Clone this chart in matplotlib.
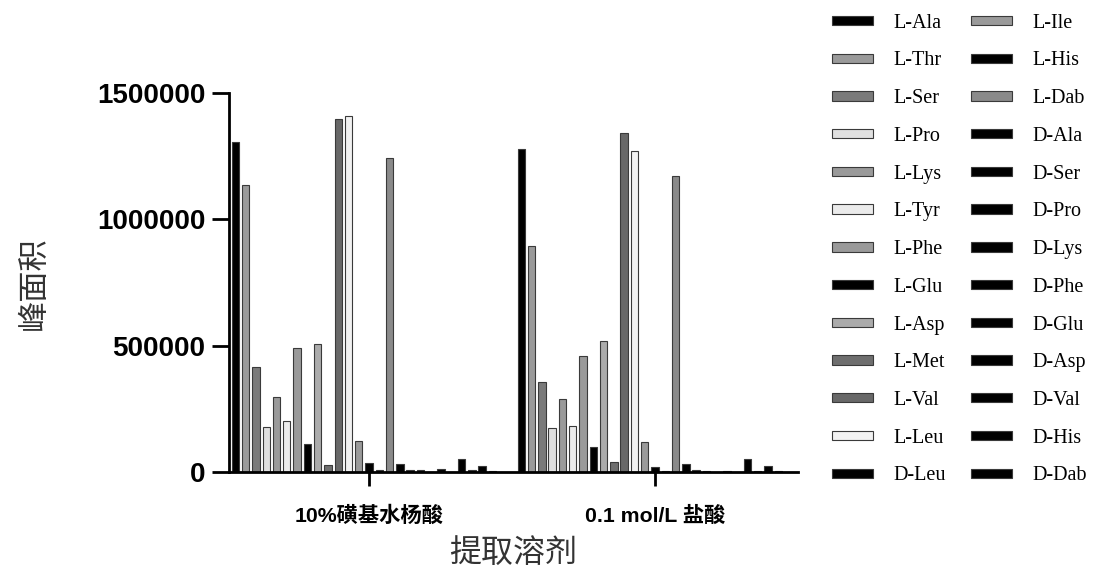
import numpy as np
import matplotlib.pyplot as plt
from matplotlib.patches import Patch

plt.rcParams['font.family'] = ['Liberation Sans', 'Noto Sans CJK SC']

# extraction solvents (x groups)
groups = ["10%磺基水杨酸", "0.1 mol/L 盐酸"]

# amino acid series, in bar order within each group
names = ["L-Ala", "L-Thr", "L-Ser", "L-Pro", "L-Lys", "L-Tyr", "L-Phe", "L-Glu",
         "L-Asp", "L-Met", "L-Val", "L-Leu", "L-Ile", "L-His", "D-Leu", "L-Dab",
         "D-Ala", "D-Ser", "D-Pro", "D-Lys", "D-Phe", "D-Glu", "D-Asp", "D-Val",
         "D-His", "D-Dab"]

# peak areas, one list per solvent
area_ssa = [1305000, 1135000, 415000, 180000, 298000, 203000, 490000, 111000,
            506000, 28000, 1398000, 1411000, 123000, 34000, 6000, 1243000,
            32000, 7000, 6000, 0, 11000, 0, 51000, 6000, 24000, 5000]
area_hcl = [1279000, 895000, 358000, 173000, 288000, 184000, 461000, 100000,
            520000, 38000, 1343000, 1270000, 118000, 21000, 5000, 1171000,
            30000, 7000, 5000, 0, 5000, 0, 51000, 5000, 25000, 4000]

colors = {
    "L-Ala": "#000000", "L-Thr": "#9a9a9a", "L-Ser": "#7a7a7a", "L-Pro": "#e0e0e0",
    "L-Lys": "#9a9a9a", "L-Tyr": "#ebebeb", "L-Phe": "#9a9a9a", "L-Glu": "#000000",
    "L-Asp": "#ababab", "L-Met": "#6e6e6e", "L-Val": "#686868", "L-Leu": "#f2f2f2",
    "L-Ile": "#9a9a9a", "L-His": "#000000", "D-Leu": "#000000", "L-Dab": "#8a8a8a",
}

# legend layout: two columns as printed
legend_order = ["L-Ala", "L-Thr", "L-Ser", "L-Pro", "L-Lys", "L-Tyr", "L-Phe",
                "L-Glu", "L-Asp", "L-Met", "L-Val", "L-Leu", "D-Leu",
                "L-Ile", "L-His", "L-Dab", "D-Ala", "D-Ser", "D-Pro", "D-Lys",
                "D-Phe", "D-Glu", "D-Asp", "D-Val", "D-His", "D-Dab"]

values = np.array([area_ssa, area_hcl])
x = np.arange(len(groups))
n = len(names)
slot = 1 / 27.8
offsets = (np.arange(n) - n // 2) * slot

fig = plt.figure(figsize=(10.93, 5.72), dpi=100)
ax = fig.add_axes([0.2095, 0.1748, 0.5205, 0.6622])

handles = {}
for i, name in enumerate(names):
    c = colors.get(name, "#000000")
    ax.bar(x + offsets[i], values[:, i], width=slot * 0.72, color=c,
           edgecolor="#3a3a3a", linewidth=0.8)
    handles[name] = Patch(facecolor=c, edgecolor="#3a3a3a", linewidth=0.8)

ax.set_xlim(-0.49, 1.5)
ax.set_ylim(0, 1500000)
ax.set_yticks([0, 500000, 1000000, 1500000])
ax.set_yticklabels(["0", "500000", "1000000", "1500000"])
ax.set_xticks(x)
ax.set_xticklabels(groups)

for s in ["top", "right"]:
    ax.spines[s].set_visible(False)
for s in ["left", "bottom"]:
    ax.spines[s].set_linewidth(2)

ax.tick_params(axis="y", length=12, width=2, pad=5, labelsize=20)
ax.tick_params(axis="x", length=10, width=2, pad=14, labelsize=15.3)
for lbl in ax.get_yticklabels() + ax.get_xticklabels():
    lbl.set_fontweight("bold")

ax.set_ylabel("峰面积", fontsize=22.5, color="#333333", labelpad=34,
              family=["Noto Sans CJK SC"])
ax.set_xlabel("提取溶剂", fontsize=23, color="#333333", labelpad=8,
              family=["Noto Sans CJK SC"])

fig.legend([handles[k] for k in legend_order], legend_order, ncol=2,
           loc="upper left", bbox_to_anchor=(0.761, 0.976), frameon=False,
           prop={"family": "Liberation Serif", "size": 14.5},
           handlelength=2.03, handleheight=0.34, labelspacing=0.93,
           handletextpad=1.02, columnspacing=1.25, borderpad=0, borderaxespad=0)

fig.savefig("out.png", dpi=100)
